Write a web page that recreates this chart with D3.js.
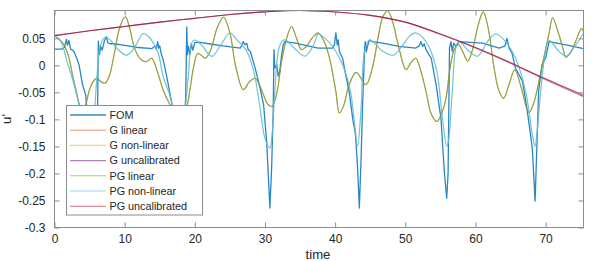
<!DOCTYPE html>
<html>
<head>
<meta charset="utf-8">
<script src="https://cdn.jsdelivr.net/npm/d3@7"></script>
<style>
body { margin: 0; background: #fff; }
svg text { font-family: "Liberation Sans", Arial, sans-serif; fill: #262626; }
</style>
</head>
<body>
<svg id="chart" width="598" height="261"></svg>
<script>
// values, [time, u']
const fom = [[0,0.030],[1.0,0.030],[1.4,0.033],[1.7,0.048],[1.85,0.037],[2.05,0.046],[2.3,0.030],[2.6,0.028],[2.8,0.025],[3.2,0.012],[3.5,0.001],[4.0,-0.036],[4.45,-0.055],[4.8,-0.11],[5.2,-0.25],[5.5,-0.2],[5.9,-0.12],[6.15,-0.07],[6.25,0.045],[6.4,0.020],[6.6,0.035],[6.8,0.028],[7.1,0.045],[7.4,0.053],[7.6,0.042],[7.9,0.040],[8.5,0.040],[10,0.037],[12,0.033],[13.9,0.031],[14.3,0.036],[14.5,0.030],[14.7,0.044],[14.85,0.032],[15.0,0.036],[15.2,0.022],[15.5,0.010],[16.0,-0.021],[16.45,-0.052],[16.8,-0.075],[17.2,-0.15],[17.6,-0.26],[17.9,-0.2],[18.4,-0.12],[18.7,-0.06],[18.85,0.071],[18.95,0.020],[19.1,0.035],[19.3,0.020],[19.5,0.040],[19.7,0.028],[20.0,0.042],[20.5,0.043],[22,0.040],[24,0.036],[26.5,0.032],[26.9,0.044],[27.15,0.038],[27.4,0.041],[27.6,0.029],[27.9,0.026],[28.6,-0.005],[29.3,-0.042],[29.8,-0.073],[30.24,-0.141],[30.7,-0.264],[30.95,-0.19],[31.18,-0.079],[31.28,0.029],[31.4,-0.005],[31.66,0.001],[31.9,-0.020],[32.1,-0.011],[32.38,0.020],[32.6,0.038],[32.85,0.044],[34.3,0.041],[37.6,0.032],[39.6,0.032],[39.9,0.038],[40.1,0.060],[40.3,0.038],[40.45,0.047],[40.6,0.026],[40.8,0.020],[41.07,0.013],[41.5,-0.017],[42.0,-0.048],[42.5,-0.098],[42.9,-0.128],[43.2,-0.19],[43.45,-0.264],[43.7,-0.172],[43.9,-0.079],[44.2,0.032],[44.3,0.044],[44.45,0.025],[44.6,0.035],[44.9,0.047],[45.3,0.044],[46.8,0.041],[49.1,0.035],[51.5,0.032],[52.0,0.036],[52.2,0.044],[52.47,0.035],[52.7,0.040],[52.95,0.029],[53.7,0.013],[54.4,-0.036],[55.08,-0.098],[55.56,-0.196],[55.9,-0.246],[56.1,-0.2],[56.3,0.032],[56.5,0.044],[56.7,0.026],[56.9,0.041],[57.2,0.035],[57.65,0.044],[61.0,0.041],[63.4,0.032],[64.2,0.036],[64.5,0.050],[64.8,0.032],[65.2,0.023],[65.7,-0.005],[66.2,-0.017],[66.7,-0.030],[67.1,-0.060],[67.6,-0.104],[68.1,-0.153],[68.5,-0.251],[68.7,-0.172],[69.0,-0.048],[69.3,-0.017],[69.5,0.001],[70.0,0.0135],[70.5,0.044],[72.9,0.038],[75.4,0.031]];

const pgLinear = [[0,0.055],[0.7,0.048],[1.35,0.038],[2.07,0.0135],[2.6,-0.02],[3.0,-0.042],[3.6,-0.075],[4.0,-0.085],[4.4,-0.075],[5.0,-0.045],[5.5,-0.030],[6.0,-0.024],[6.6,-0.030],[7.2,-0.033],[7.8,-0.020],[8.5,0.020],[9.3,0.070],[10.1,0.090],[10.7,0.070],[11.2,0.041],[11.8,0.020],[12.4,0.010],[13.1,0.007],[13.85,0.013],[14.6,-0.009],[15.5,-0.046],[16.46,-0.073],[17.3,-0.090],[18.0,-0.088],[18.8,-0.077],[19.3,-0.045],[19.8,-0.005],[20.4,0.022],[21.0,0.018],[21.5,0.013],[22.3,0.030],[23.2,0.070],[24.1,0.089],[25.0,0.060],[25.8,0.000],[26.9,-0.045],[27.8,-0.030],[28.6,-0.024],[29.5,-0.045],[30.4,-0.072],[31.0,-0.076],[31.7,-0.050],[32.4,0.010],[33.2,0.055],[33.8,0.072],[34.5,0.050],[35.2,0.029],[35.9,0.035],[36.7,0.050],[37.6,0.060],[38.4,0.045],[39.2,0.0135],[40.1,-0.048],[40.6,-0.088],[41.2,-0.075],[42.0,-0.036],[43.0,-0.013],[44.4,-0.036],[45.3,-0.005],[46.2,0.057],[46.8,0.090],[47.5,0.101],[48.2,0.080],[49.1,0.032],[50.1,-0.008],[50.8,0.005],[51.5,0.013],[52.2,-0.010],[52.95,-0.048],[53.7,-0.090],[54.5,-0.104],[55.3,-0.085],[55.8,-0.061],[56.4,-0.004],[57.0,0.030],[57.6,0.038],[58.2,0.025],[58.9,0.008],[59.6,0.030],[60.4,0.075],[61.1,0.099],[61.8,0.070],[62.6,0.000],[63.3,-0.045],[64.0,-0.061],[64.8,-0.035],[65.6,-0.008],[66.5,-0.040],[67.6,-0.087],[68.3,-0.070],[69.2,-0.020],[70.0,0.030],[70.5,0.060],[71.0,0.088],[71.7,0.065],[72.4,0.035],[72.9,0.015],[73.6,0.025],[74.3,0.045],[75.1,0.068],[75.4,0.063]];

const pgNonlinear = [[0,0.055],[0.9,0.044],[1.8,0.007],[2.8,-0.036],[3.5,-0.073],[4.3,-0.125],[5.0,-0.15],[5.6,-0.1],[6.0,-0.03],[6.5,0.035],[7.2,0.052],[8.0,0.046],[9.0,0.030],[10.3,0.019],[11.5,0.035],[12.66,0.059],[13.5,0.052],[14.1,0.041],[14.8,0.022],[15.5,-0.021],[16.5,-0.058],[16.9,-0.083],[17.6,-0.15],[18.2,-0.12],[18.6,-0.083],[19.07,-0.021],[19.55,0.041],[20.0,0.047],[21.0,0.037],[22.4,0.0166],[23.8,0.040],[25.0,0.060],[26.0,0.047],[26.9,0.035],[27.4,0.026],[28.4,-0.011],[29.3,-0.079],[30.0,-0.135],[30.7,-0.153],[31.0,-0.13],[31.4,-0.048],[31.9,0.026],[32.4,0.044],[32.9,0.047],[34.0,0.034],[35.7,0.017],[36.9,0.037],[37.6,0.058],[38.2,0.054],[40.1,0.026],[42.0,-0.036],[42.7,-0.1],[43.2,-0.15],[43.7,-0.079],[44.2,0.026],[44.9,0.047],[46.8,0.026],[48.3,0.019],[49.5,0.035],[50.6,0.054],[51.5,0.060],[52.95,0.044],[54.4,-0.005],[55.3,-0.098],[55.9,-0.15],[56.2,-0.135],[56.7,-0.048],[57.2,0.032],[57.65,0.044],[59.1,0.026],[60.3,0.017],[61.9,0.047],[62.9,0.058],[64.3,0.044],[65.7,0.0135],[67.15,-0.048],[68.1,-0.128],[68.5,-0.15],[68.8,-0.122],[69.3,-0.048],[70.0,0.026],[70.5,0.046],[71.9,0.026],[72.9,0.017],[74.3,0.038],[75.4,0.059]];

const pgUncal = [[0,0.055],[5,0.064],[10,0.072],[15,0.080],[20,0.087],[25,0.094],[30,0.099],[35,0.1015],[40,0.0987],[45,0.0925],[50,0.080],[55,0.058],[60,0.033],[65,0.005],[70,-0.025],[75.4,-0.0556]];
const gUncal = [[0,0.055],[5,0.064],[10,0.072],[15,0.080],[20,0.087],[25,0.094],[30,0.099],[35,0.1015],[40,0.0987],[45,0.0925],[50,0.080],[55,0.0575],[60,0.0322],[65,0.0038],[70,-0.0268],[75.4,-0.058]];
// the G linear / G non-linear curves sit under the PG ones in the picture
const gLinear = pgLinear;
const gNonlinear = pgNonlinear;

const names = ["FOM", "G linear", "G non-linear", "G uncalibrated", "PG linear", "PG non-linear", "PG uncalibrated"];
const colors = ["#0072BD", "#D95319", "#EDB120", "#7E2F8E", "#77AC30", "#4DBEEE", "#A2142F"];
const opac = [0.85, 0.6, 0.35, 0.6, 0.8, 0.85, 0.8];
const xTicks = [0, 10, 20, 30, 40, 50, 60, 70];
const yTicks = [-0.3, -0.25, -0.2, -0.15, -0.1, -0.05, 0, 0.05];
const yTickLabels = ["-0.3", "-0.25", "-0.2", "-0.15", "-0.1", "-0.05", "0", "0.05"];

const series = [fom, gLinear, gNonlinear, gUncal, pgLinear, pgNonlinear, pgUncal];

const svg = d3.select("#chart");
const x = d3.scaleLinear().domain([0, 75.4]).range([54.5, 583.5]);
const y = d3.scaleLinear().domain([-0.3, 0.1015]).range([227.5, 10.5]);

svg.append("clipPath").attr("id", "plotclip")
    .append("rect")
    .attr("x", 54.5).attr("y", 10.5)
    .attr("width", 529).attr("height", 217);

const smooth = d3.line().x(d => x(d[0])).y(d => y(d[1])).curve(d3.curveCatmullRom.alpha(0.5));
const straight = d3.line().x(d => x(d[0])).y(d => y(d[1]));

const plot = svg.append("g").attr("clip-path", "url(#plotclip)");
series.forEach((s, i) => {
    plot.append("path")
        .attr("d", i == 0 ? straight(s) : smooth(s))
        .attr("fill", "none")
        .attr("stroke", colors[i])
        .attr("stroke-opacity", opac[i])
        .attr("stroke-width", i == 0 ? 1.3 : 1.1)
        .attr("stroke-linejoin", "round");
});

// axes, ticks pointing inward
const xAxis = d3.axisBottom(x).tickValues(xTicks).tickSize(-5).tickPadding(7);
const yAxis = d3.axisLeft(y).tickValues(yTicks).tickSize(-5).tickPadding(9)
    .tickFormat((d, i) => yTickLabels[i]);

const gx = svg.append("g").attr("transform", "translate(0,227.5)").call(xAxis);
const gy = svg.append("g").attr("transform", "translate(54.5,0)").call(yAxis);
const gt = svg.append("g").attr("transform", "translate(0,10.5)")
    .call(d3.axisTop(x).tickValues(xTicks).tickSize(-5).tickFormat(""));
const gr = svg.append("g").attr("transform", "translate(583.5,0)")
    .call(d3.axisRight(y).tickValues(yTicks).tickSize(-5).tickFormat(""));

[gx, gy, gt, gr].forEach(g => {
    g.select(".domain").remove();
    g.selectAll("line").attr("stroke", "#8c8c8c");
    g.selectAll("text").attr("font-size", "12px").attr("font-family", "Liberation Sans, Arial, sans-serif").attr("fill", "#262626");
});

svg.append("rect")
    .attr("x", 54.5).attr("y", 10.5)
    .attr("width", 529).attr("height", 217)
    .attr("fill", "none").attr("stroke", "#8c8c8c");

svg.append("text")
    .attr("x", 318).attr("y", 259)
    .attr("text-anchor", "middle")
    .attr("font-size", "13.2px")
    .text("time");

svg.append("text")
    .attr("transform", "translate(10.5,119) rotate(-90)")
    .attr("text-anchor", "middle")
    .attr("font-size", "13.2px")
    .text("u'");

// legend
const legend = svg.append("g");
legend.append("rect")
    .attr("x", 66.5).attr("y", 105.5)
    .attr("width", 136).attr("height", 109.5)
    .attr("fill", "#fff").attr("stroke", "#8c8c8c");
names.forEach((n, i) => {
    const ly = 115 + i * 15.2;
    legend.append("line")
        .attr("x1", 70).attr("x2", 106)
        .attr("y1", ly).attr("y2", ly)
        .attr("stroke", colors[i])
        .attr("stroke-opacity", 0.6)
        .attr("stroke-width", i == 0 ? 2 : 1.1);
    legend.append("text")
        .attr("x", 109.5).attr("y", ly + 3.8)
        .attr("font-size", "10.8px")
        .text(n);
});
</script>
</body>
</html>
